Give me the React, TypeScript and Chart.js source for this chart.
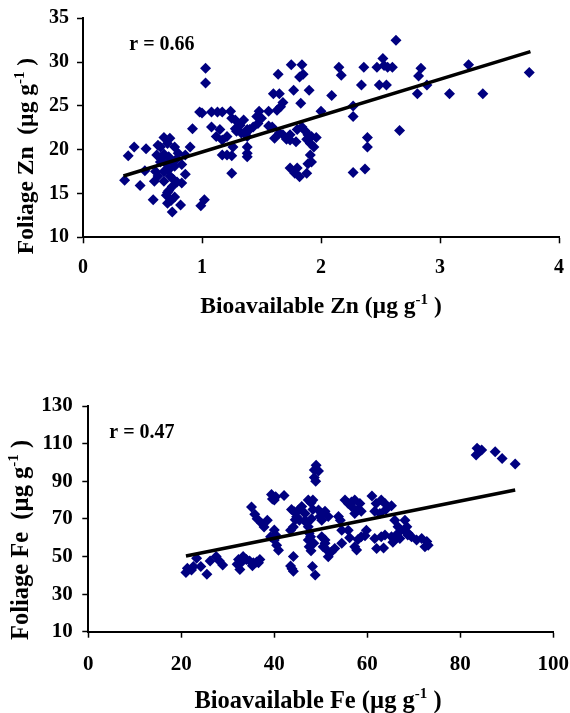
import React, { useEffect, useRef } from 'react';
import { Chart, registerables } from 'chart.js';

Chart.register(...registerables);

const FONT = '"Liberation Serif", "Times New Roman", Times, serif';
const NAVY = '#000080';

// ---------- Zinc panel ----------
const znBioavailable = [
  0.35, 0.38, 0.43, 0.48, 0.52, 0.53, 0.59, 0.60, 0.61, 0.62, 0.63, 0.63, 0.65, 0.65, 0.66, 0.68, 0.68, 0.68, 0.68,
  0.70, 0.70, 0.71, 0.71, 0.71, 0.72, 0.72, 0.72, 0.73, 0.73, 0.74, 0.75, 0.75, 0.75, 0.76, 0.77, 0.77, 0.77, 0.79,
  0.79, 0.80, 0.82, 0.83, 0.83, 0.86, 0.86, 0.90, 0.92, 0.98, 1.00, 0.99, 1.02, 1.03, 1.03,
  1.08, 1.08, 1.12, 1.13, 1.17, 1.15, 1.17, 1.17, 1.21, 1.21, 1.25, 1.25, 1.24, 1.25, 1.28, 1.26, 1.28, 1.29, 1.32,
  1.33, 1.35, 1.38, 1.38, 1.38, 1.38, 1.38, 1.40, 1.43, 1.46, 1.47, 1.48, 1.50, 1.56, 1.56, 1.59, 1.60, 1.61, 1.63,
  1.64, 1.65, 1.65, 1.66, 1.68, 1.68, 1.71, 1.74, 1.74, 1.74, 1.75, 1.77, 1.78, 1.79, 1.80, 1.80, 1.82, 1.82, 1.83,
  1.84, 1.84, 1.85, 1.87, 1.88, 1.88, 1.89, 1.89, 1.90, 1.91, 1.91, 1.92, 1.92, 1.94, 1.96,
  2.00, 2.09, 2.15, 2.17, 2.27, 2.27, 2.27, 2.34, 2.36, 2.37, 2.39, 2.39, 2.47, 2.49, 2.52, 2.53, 2.55, 2.56, 2.60,
  2.63, 2.66, 2.81, 2.82, 2.84, 2.89, 3.08, 3.24, 3.36, 3.75,
];
const znFoliage = [
  16.5, 19.3, 20.3, 15.9, 17.6, 20.1, 14.3, 16.4, 17.5, 19.4, 20.5, 17.0, 20.3, 18.6, 19.0, 21.4, 19.5, 17.5, 16.4,
  18.4, 14.8, 13.9, 15.1, 20.7, 19.2, 17.7, 15.3, 21.3, 17.0, 14.2, 18.6, 15.8, 12.9, 16.6, 20.3, 18.1, 14.6, 19.0,
  16.3, 19.6, 13.7, 18.3, 16.2, 19.4, 17.2, 20.3, 22.4, 24.3, 24.2, 13.6, 14.3, 29.3, 27.6,
  22.6, 24.3, 21.5, 24.3, 24.3, 22.3, 21.1, 19.4, 19.4, 21.5, 19.3, 17.3, 24.4, 23.6, 23.4, 20.3, 22.4, 22.1, 22.8,
  21.9, 23.4, 22.3, 21.5, 20.3, 19.6, 19.2, 22.3, 22.6, 23.8, 23.0, 24.4, 23.6, 24.4, 22.7, 22.6, 26.4, 21.3, 24.5,
  28.6, 26.4, 21.9, 24.9, 25.4, 21.7, 21.2, 21.7, 21.1, 17.9, 29.7, 26.8, 17.3, 20.9, 22.3, 17.9, 28.3, 16.9, 25.3,
  29.7, 22.6, 28.6, 22.1, 21.2, 17.3, 21.7, 18.4, 26.8, 20.7, 19.4, 21.5, 18.6, 20.3, 21.4,
  24.4, 26.2, 29.4, 28.5, 23.8, 25.0, 17.4, 27.4, 29.4, 17.8, 21.4, 20.3, 29.4, 27.4, 30.4, 29.6, 27.4, 29.4, 29.4,
  32.5, 22.2, 26.4, 28.4, 29.3, 27.4, 26.4, 29.7, 26.4, 28.8,
];
const znTrendX = [0.34, 3.76];
const znTrendY = [17.0, 31.2];
const znXTicks = [0, 1, 2, 3, 4];
const znYTicks = [10, 15, 20, 25, 30, 35];
const znR = 'r = 0.66';

// ---------- Iron panel ----------
const feBioavailable = [
  21.0, 21.3, 22.2, 22.6, 23.3, 24.2, 25.5, 26.2, 27.5, 28.2, 28.9,
  32.0, 32.3, 32.6, 33.0, 33.3, 34.0, 34.7, 35.5, 35.3, 36.6, 36.9, 36.2,
  35.1, 35.8, 36.3, 37.3, 37.8, 38.5, 39.4, 39.6, 40.3, 40.0, 42.1, 39.2, 40.0, 40.3, 40.0, 40.5, 40.9,
  43.7, 44.3, 44.8, 44.1, 43.5, 44.1, 43.5, 44.1, 43.8, 44.5, 45.2, 45.9, 46.6, 45.4,
  47.3, 47.9, 47.0, 47.3, 46.6, 47.5, 47.8, 47.3, 47.5, 47.9, 48.2, 48.8, 48.6, 49.0, 49.5, 48.6, 48.9, 48.3, 48.0,
  48.5, 48.3,
  49.5, 50.2, 50.9, 49.8, 50.2, 51.6, 50.2, 50.9, 50.5, 51.3, 50.9, 51.6, 52.3, 53.0, 53.8, 54.2, 54.5, 54.5, 55.2,
  55.9, 56.6, 55.9, 56.2, 57.3, 58.0, 58.7, 57.3, 58.4, 57.3, 57.7, 58.0, 58.7, 56.6,
  59.8, 59.5, 61.0, 61.9, 63.0, 63.8, 65.2, 64.0, 61.6, 62.7, 61.6, 62.0, 63.0, 63.8, 65.2, 65.9, 66.6, 65.9, 66.6,
  68.0, 68.7, 69.5, 68.1, 68.5, 68.8, 70.6, 71.7, 72.8, 73.1, 72.4, 63.5, 65.5, 67.0,
  83.4, 83.6, 84.2, 84.6, 87.5, 89.0, 91.8,
];
const feFoliage = [
  41.5, 43.7, 42.8, 44.6, 49.0, 44.6, 40.5, 47.6, 50.0, 47.6, 45.4,
  45.8, 48.4, 43.1, 47.0, 50.0, 48.4, 47.6, 46.7, 45.0, 46.7, 48.4, 47.0,
  76.3, 72.5, 70.0, 67.5, 65.7, 69.3, 83.0, 80.5, 81.8, 80.0, 82.4, 60.5, 64.1, 61.4, 58.7, 56.0, 53.3,
  75.0, 73.8, 71.1, 65.7, 64.0, 50.0, 44.9, 42.2, 43.5, 69.5, 74.7, 76.5, 72.9, 69.3,
  80.0, 78.5, 67.6, 65.8, 69.3, 62.3, 60.5, 58.7, 55.2, 53.0, 44.6, 40.2, 96.0, 98.5, 95.5, 92.0, 90.0, 75.0, 70.0,
  57.0, 80.0,
  74.7, 72.9, 74.0, 71.2, 69.3, 71.2, 60.5, 58.7, 55.2, 53.4, 57.0, 49.9, 52.5, 54.3, 71.2, 69.3, 64.0, 57.0, 80.0,
  78.2, 79.0, 64.0, 60.0, 72.9, 75.0, 74.0, 80.0, 78.2, 55.2, 53.4, 59.0, 60.5, 76.5,
  64.0, 61.0, 82.2, 78.2, 80.0, 78.2, 77.0, 75.0, 74.0, 72.9, 59.6, 54.3, 60.5, 61.4, 60.5, 59.0, 62.3, 69.3, 65.8,
  64.0, 61.4, 60.5, 69.3, 65.8, 62.3, 58.7, 59.6, 57.9, 56.0, 55.2, 54.5, 57.5, 59.5,
  103.9, 107.5, 106.2, 106.6, 105.7, 102.1, 99.2,
];
const feTrendX = [21.0, 91.8];
const feTrendY = [50.2, 85.3];
const feXTicks = [0, 20, 40, 60, 80, 100];
const feYTicks = [10, 30, 50, 70, 90, 110, 130];
const feR = 'r = 0.47';

type Part = { t: string; sup?: boolean };

function drawParts(ctx: CanvasRenderingContext2D, parts: Part[], x: number, y: number, size: number) {
  const main = `bold ${size}px ${FONT}`;
  const sup = `bold ${Math.round(size * 0.62)}px ${FONT}`;
  let total = 0;
  const widths = parts.map((p) => {
    ctx.font = p.sup ? sup : main;
    const w = ctx.measureText(p.t).width;
    total += w;
    return w;
  });
  let cx = x - total / 2;
  ctx.textAlign = 'left';
  ctx.textBaseline = 'alphabetic';
  ctx.fillStyle = '#000';
  parts.forEach((p, i) => {
    ctx.font = p.sup ? sup : main;
    ctx.fillText(p.t, cx, p.sup ? y - size * 0.4 : y);
    cx += widths[i];
  });
}

type PanelProps = {
  xs: number[];
  ys: number[];
  trendX: number[];
  trendY: number[];
  xTicks: number[];
  yTicks: number[];
  rText: string;
  xTitle: Part[];
  yTitle: Part[];
  height: number;
  area: { left: number; top: number; right: number; bottom: number };
  xTickPad: number;
  yTickPad: number;
  tickSize: number;
  rPos: [number, number];
  xTitlePos: [number, number];
  yTitlePos: [number, number];
  titleSize: number;
};

function zeroPad(s: any) {
  s.paddingLeft = 0;
  s.paddingRight = 0;
  s.paddingTop = 0;
  s.paddingBottom = 0;
}

function ScatterPanel(props: PanelProps) {
  const ref = useRef<HTMLCanvasElement>(null);
  useEffect(() => {
    const p = props;
    const W = 570;
    const xAxisH = 40;
    const tickFont = { family: FONT, size: p.tickSize, weight: 'bold' as const };
    const textPlugin = {
      id: 'panelTexts',
      afterDraw(chart: any) {
        const ctx = chart.ctx as CanvasRenderingContext2D;
        ctx.save();
        ctx.font = `bold 20px ${FONT}`;
        ctx.fillStyle = '#000';
        ctx.textAlign = 'left';
        ctx.textBaseline = 'alphabetic';
        ctx.fillText(p.rText, p.rPos[0], p.rPos[1]);
        drawParts(ctx, p.xTitle, p.xTitlePos[0], p.xTitlePos[1], p.titleSize);
        ctx.translate(p.yTitlePos[0], p.yTitlePos[1]);
        ctx.rotate(-Math.PI / 2);
        drawParts(ctx, p.yTitle, 0, 0, p.titleSize);
        ctx.restore();
      },
    };
    const chart = new Chart(ref.current as HTMLCanvasElement, {
      type: 'scatter',
      data: {
        datasets: [
          {
            data: p.trendX.map((x, i) => ({ x, y: p.trendY[i] })),
            showLine: true,
            borderColor: '#000',
            borderWidth: 3.5,
            pointRadius: 0,
            fill: false,
          } as any,
          {
            data: p.xs.map((x, i) => ({ x, y: p.ys[i] })),
            pointStyle: 'rectRot',
            pointRadius: 5.5,
            backgroundColor: NAVY,
            borderColor: NAVY,
            borderWidth: 0,
          } as any,
        ],
      },
      options: {
        responsive: false,
        animation: false,
        events: [],
        layout: {
          padding: {
            left: 0,
            top: p.area.top,
            right: W - p.area.right,
            bottom: p.height - p.area.bottom - xAxisH,
          },
        },
        plugins: { legend: { display: false }, tooltip: { enabled: false } },
        scales: {
          x: {
            type: 'linear',
            min: p.xTicks[0],
            max: p.xTicks[p.xTicks.length - 1],
            afterBuildTicks: (s: any) => {
              s.ticks = p.xTicks.map((v) => ({ value: v }));
            },
            afterFit: (s: any) => {
              s.height = xAxisH;
              zeroPad(s);
            },
            grid: { display: true, drawOnChartArea: false, drawTicks: true, tickLength: 6, tickColor: '#000', tickWidth: 1.5 },
            border: { display: true, color: '#000', width: 2 },
            ticks: { color: '#000', font: tickFont, padding: p.xTickPad, maxRotation: 0, autoSkip: false },
          },
          y: {
            type: 'linear',
            min: p.yTicks[0],
            max: p.yTicks[p.yTicks.length - 1],
            afterBuildTicks: (s: any) => {
              s.ticks = p.yTicks.map((v) => ({ value: v }));
            },
            afterFit: (s: any) => {
              s.width = p.area.left;
              zeroPad(s);
            },
            grid: { display: true, drawOnChartArea: false, drawTicks: true, tickLength: 6, tickColor: '#000', tickWidth: 1.5 },
            border: { display: true, color: '#000', width: 2 },
            ticks: { color: '#000', font: tickFont, padding: p.yTickPad, autoSkip: false },
          },
        },
      } as any,
      plugins: [textPlugin],
    });
    return () => chart.destroy();
  }, []);
  return <canvas ref={ref} width={570} height={props.height} style={{ display: 'block' }} />;
}

export default function App() {
  return (
    <div style={{ position: 'fixed', left: 0, top: 0, width: 570, height: 713, background: '#fff', overflow: 'hidden' }}>
      <ScatterPanel
        xs={znBioavailable}
        ys={znFoliage}
        trendX={znTrendX}
        trendY={znTrendY}
        xTicks={znXTicks}
        yTicks={znYTicks}
        rText={znR}
        xTitle={[{ t: 'Bioavailable Zn (µg g' }, { t: '-1', sup: true }, { t: ' )' }]}
        yTitle={[{ t: 'Foliage Zn  (µg g' }, { t: '-1', sup: true }, { t: ' )' }]}
        height={350}
        area={{ left: 83, top: 18.3, right: 559, bottom: 237.3 }}
        xTickPad={13}
        yTickPad={8}
        tickSize={20}
        rPos={[129.3, 50]}
        xTitlePos={[321, 313]}
        yTitlePos={[33, 156]}
        titleSize={23.5}
      />
      <ScatterPanel
        xs={feBioavailable}
        ys={feFoliage}
        trendX={feTrendX}
        trendY={feTrendY}
        xTicks={feXTicks}
        yTicks={feYTicks}
        rText={feR}
        xTitle={[{ t: 'Bioavailable Fe (µg g' }, { t: '-1', sup: true }, { t: ' )' }]}
        yTitle={[{ t: 'Foliage Fe  (µg g' }, { t: '-1', sup: true }, { t: ' )' }]}
        height={363}
        area={{ left: 88.3, top: 56, right: 553.3, bottom: 281.7 }}
        xTickPad={14}
        yTickPad={9.5}
        tickSize={21}
        rPos={[109.3, 88.3]}
        xTitlePos={[318, 358]}
        yTitlePos={[28, 190]}
        titleSize={24.5}
      />
    </div>
  );
}
